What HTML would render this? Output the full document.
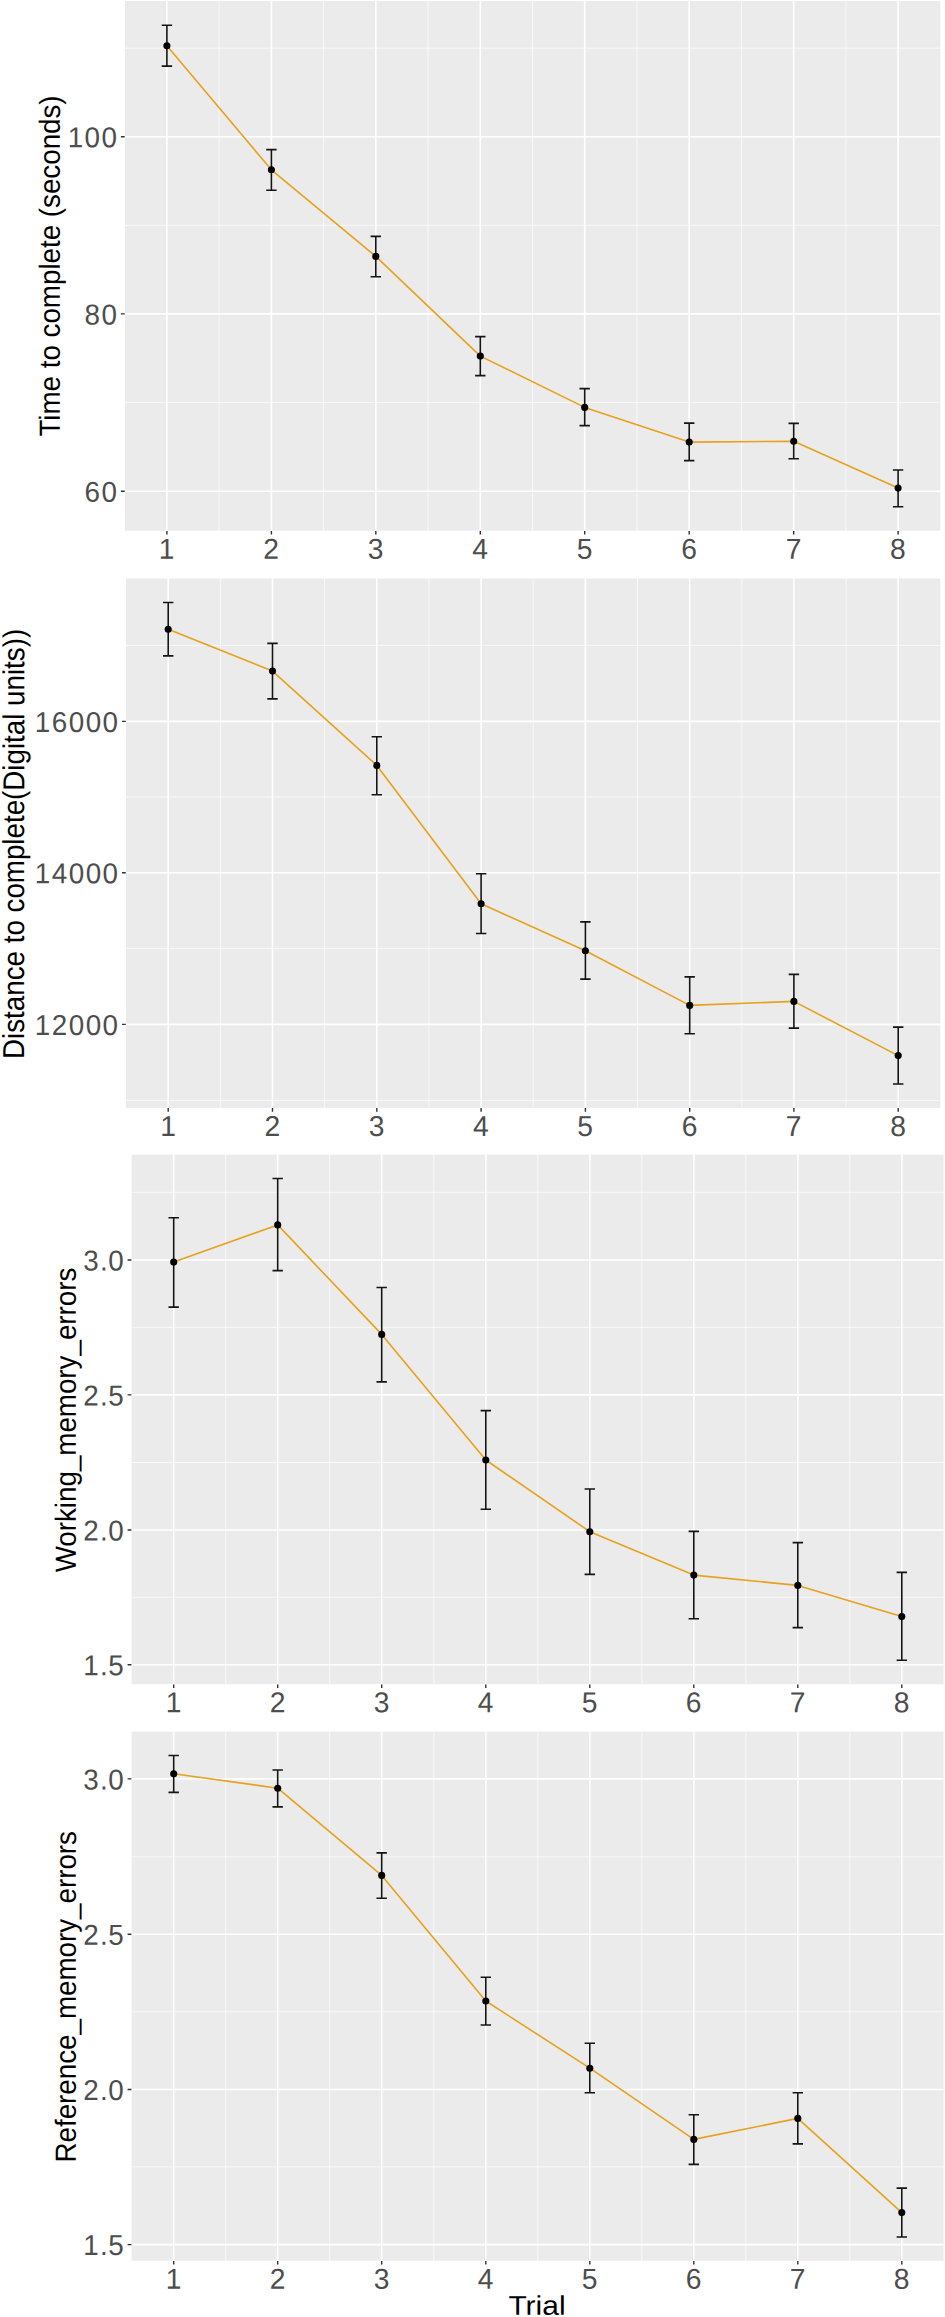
<!DOCTYPE html>
<html><head><meta charset="utf-8"><title>Trial learning curves</title>
<style>
html,body{margin:0;padding:0;background:#fff}
svg{display:block}
text{font-family:"Liberation Sans",Arial,Helvetica,sans-serif}
.tk{fill:#4d4d4d;font-size:28.8px}
.yl{letter-spacing:0px}
.ti{fill:#000;font-size:27.75px}
</style></head><body>
<svg width="945" height="2317" viewBox="0 0 945 2317">
<rect width="945" height="2317" fill="#fff"/>
<g id="panel1">
<rect x="124.9" y="1.0" width="815.4" height="529.7" fill="#ebebeb"/>
<path d="M124.9 48.2H940.3M124.9 225.3H940.3M124.9 402.4H940.3M219.1 1.0V530.7M323.6 1.0V530.7M428.0 1.0V530.7M532.5 1.0V530.7M637.0 1.0V530.7M741.4 1.0V530.7M845.9 1.0V530.7" stroke="#fff" stroke-opacity=".85" stroke-width="0.8" fill="none"/>
<path d="M124.9 136.8H940.3M124.9 313.9H940.3M124.9 491.2H940.3M166.9 1.0V530.7M271.4 1.0V530.7M375.8 1.0V530.7M480.3 1.0V530.7M584.7 1.0V530.7M689.2 1.0V530.7M793.7 1.0V530.7M898.1 1.0V530.7" stroke="#fff" stroke-width="1.6" fill="none"/>
<path d="M120.9 136.8H124.7M120.9 313.9H124.7M120.9 491.2H124.7M166.9 530.9V534.6M271.4 530.9V534.6M375.8 530.9V534.6M480.3 530.9V534.6M584.7 530.9V534.6M689.2 530.9V534.6M793.7 530.9V534.6M898.1 530.9V534.6" stroke="#333" stroke-width="1.4" fill="none"/>
<polyline points="166.9,45.7 271.4,169.8 375.8,256.4 480.3,356.1 584.7,407.4 689.2,442.1 793.7,441.3 898.1,488.1" fill="none" stroke="#e7a11a" stroke-width="1.6" stroke-linejoin="round"/>
<path d="M161.7 25.2H172.1M161.7 66.1H172.1M166.9 25.2V66.1M266.2 149.6H276.6M266.2 190.3H276.6M271.4 149.6V190.3M370.6 236.4H381.0M370.6 276.7H381.0M375.8 236.4V276.7M475.1 336.6H485.5M475.1 375.6H485.5M480.3 336.6V375.6M579.5 388.6H589.9M579.5 425.6H589.9M584.7 388.6V425.6M684.0 423.1H694.4M684.0 460.6H694.4M689.2 423.1V460.6M788.5 423.4H798.9M788.5 458.8H798.9M793.7 423.4V458.8M892.9 470.0H903.3M892.9 506.8H903.3M898.1 470.0V506.8" stroke="#141414" stroke-width="1.6" fill="none"/>
<circle cx="166.9" cy="45.7" r="3.55" fill="#000"/>
<circle cx="271.4" cy="169.8" r="3.55" fill="#000"/>
<circle cx="375.8" cy="256.4" r="3.55" fill="#000"/>
<circle cx="480.3" cy="356.1" r="3.55" fill="#000"/>
<circle cx="584.7" cy="407.4" r="3.55" fill="#000"/>
<circle cx="689.2" cy="442.1" r="3.55" fill="#000"/>
<circle cx="793.7" cy="441.3" r="3.55" fill="#000"/>
<circle cx="898.1" cy="488.1" r="3.55" fill="#000"/>
<text class="tk" x="0.00 17.56 35.13" transform="translate(67.63 147.30) rotate(.03) scale(0.965 1)">100</text>
<text class="tk" x="0.00 17.56" transform="translate(84.58 324.40) rotate(.03) scale(0.965 1)">80</text>
<text class="tk" x="0.00 17.56" transform="translate(84.58 501.70) rotate(.03) scale(0.965 1)">60</text>
<text class="tk" text-anchor="middle" transform="translate(166.7 558.8) rotate(.03) scale(0.98 1)">1</text>
<text class="tk" text-anchor="middle" transform="translate(271.2 558.8) rotate(.03) scale(0.98 1)">2</text>
<text class="tk" text-anchor="middle" transform="translate(375.6 558.8) rotate(.03) scale(0.98 1)">3</text>
<text class="tk" text-anchor="middle" transform="translate(480.1 558.8) rotate(.03) scale(0.98 1)">4</text>
<text class="tk" text-anchor="middle" transform="translate(584.5 558.8) rotate(.03) scale(0.98 1)">5</text>
<text class="tk" text-anchor="middle" transform="translate(689.0 558.8) rotate(.03) scale(0.98 1)">6</text>
<text class="tk" text-anchor="middle" transform="translate(793.5 558.8) rotate(.03) scale(0.98 1)">7</text>
<text class="tk" text-anchor="middle" transform="translate(897.9 558.8) rotate(.03) scale(0.98 1)">8</text>
<text class="ti" text-anchor="middle" transform="translate(59.8 266.0) rotate(-89.97) scale(1 1.05)">Time to complete (seconds)</text>
</g>
<g id="panel2">
<rect x="126.0" y="578.5" width="814.3" height="529.4" fill="#ebebeb"/>
<path d="M126.0 645.4H940.3M126.0 797.0H940.3M126.0 948.4H940.3M126.0 1100.4H940.3M220.3 578.5V1107.9M324.6 578.5V1107.9M428.9 578.5V1107.9M533.2 578.5V1107.9M637.5 578.5V1107.9M741.8 578.5V1107.9M846.1 578.5V1107.9" stroke="#fff" stroke-opacity=".85" stroke-width="0.8" fill="none"/>
<path d="M126.0 721.4H940.3M126.0 872.7H940.3M126.0 1024.4H940.3M168.2 578.5V1107.9M272.5 578.5V1107.9M376.8 578.5V1107.9M481.1 578.5V1107.9M585.4 578.5V1107.9M689.7 578.5V1107.9M793.9 578.5V1107.9M898.2 578.5V1107.9" stroke="#fff" stroke-width="1.6" fill="none"/>
<path d="M122.0 721.4H125.8M122.0 872.7H125.8M122.0 1024.4H125.8M168.2 1108.1V1111.8M272.5 1108.1V1111.8M376.8 1108.1V1111.8M481.1 1108.1V1111.8M585.4 1108.1V1111.8M689.7 1108.1V1111.8M793.9 1108.1V1111.8M898.2 1108.1V1111.8" stroke="#333" stroke-width="1.4" fill="none"/>
<polyline points="168.2,629.2 272.5,671.1 376.8,765.4 481.1,903.8 585.4,950.7 689.7,1005.4 793.9,1001.4 898.2,1055.6" fill="none" stroke="#e7a11a" stroke-width="1.6" stroke-linejoin="round"/>
<path d="M163.0 602.5H173.4M163.0 655.9H173.4M168.2 602.5V655.9M267.3 643.4H277.7M267.3 698.9H277.7M272.5 643.4V698.9M371.6 736.7H382.0M371.6 794.7H382.0M376.8 736.7V794.7M475.9 873.8H486.3M475.9 933.5H486.3M481.1 873.8V933.5M580.2 921.9H590.6M580.2 979.1H590.6M585.4 921.9V979.1M684.5 976.9H694.9M684.5 1033.8H694.9M689.7 976.9V1033.8M788.7 974.4H799.1M788.7 1028.1H799.1M793.9 974.4V1028.1M893.0 1027.1H903.4M893.0 1084.0H903.4M898.2 1027.1V1084.0" stroke="#141414" stroke-width="1.6" fill="none"/>
<circle cx="168.2" cy="629.2" r="3.55" fill="#000"/>
<circle cx="272.5" cy="671.1" r="3.55" fill="#000"/>
<circle cx="376.8" cy="765.4" r="3.55" fill="#000"/>
<circle cx="481.1" cy="903.8" r="3.55" fill="#000"/>
<circle cx="585.4" cy="950.7" r="3.55" fill="#000"/>
<circle cx="689.7" cy="1005.4" r="3.55" fill="#000"/>
<circle cx="793.9" cy="1001.4" r="3.55" fill="#000"/>
<circle cx="898.2" cy="1055.6" r="3.55" fill="#000"/>
<text class="tk" x="0.00 17.56 35.13 52.69 70.26" transform="translate(34.83 731.90) rotate(.03) scale(0.965 1)">16000</text>
<text class="tk" x="0.00 17.56 35.13 52.69 70.26" transform="translate(34.83 883.20) rotate(.03) scale(0.965 1)">14000</text>
<text class="tk" x="0.00 17.56 35.13 52.69 70.26" transform="translate(34.83 1034.90) rotate(.03) scale(0.965 1)">12000</text>
<text class="tk" text-anchor="middle" transform="translate(168.0 1136.0) rotate(.03) scale(0.98 1)">1</text>
<text class="tk" text-anchor="middle" transform="translate(272.3 1136.0) rotate(.03) scale(0.98 1)">2</text>
<text class="tk" text-anchor="middle" transform="translate(376.6 1136.0) rotate(.03) scale(0.98 1)">3</text>
<text class="tk" text-anchor="middle" transform="translate(480.9 1136.0) rotate(.03) scale(0.98 1)">4</text>
<text class="tk" text-anchor="middle" transform="translate(585.2 1136.0) rotate(.03) scale(0.98 1)">5</text>
<text class="tk" text-anchor="middle" transform="translate(689.5 1136.0) rotate(.03) scale(0.98 1)">6</text>
<text class="tk" text-anchor="middle" transform="translate(793.7 1136.0) rotate(.03) scale(0.98 1)">7</text>
<text class="tk" text-anchor="middle" transform="translate(898.0 1136.0) rotate(.03) scale(0.98 1)">8</text>
<text class="ti" text-anchor="middle" transform="translate(24.1 843.9) rotate(-89.97) scale(1 1.09)">Distance to complete(Digital units))</text>
</g>
<g id="panel3">
<rect x="131.6" y="1154.7" width="812.0" height="529.5" fill="#ebebeb"/>
<path d="M131.6 1192.3H943.6M131.6 1327.4H943.6M131.6 1462.5H943.6M131.6 1597.3H943.6M225.7 1154.7V1684.2M329.7 1154.7V1684.2M433.8 1154.7V1684.2M537.8 1154.7V1684.2M641.8 1154.7V1684.2M745.8 1154.7V1684.2M849.8 1154.7V1684.2" stroke="#fff" stroke-opacity=".85" stroke-width="0.8" fill="none"/>
<path d="M131.6 1260.0H943.6M131.6 1394.9H943.6M131.6 1530.0H943.6M131.6 1664.8H943.6M173.7 1154.7V1684.2M277.7 1154.7V1684.2M381.7 1154.7V1684.2M485.8 1154.7V1684.2M589.8 1154.7V1684.2M693.8 1154.7V1684.2M797.8 1154.7V1684.2M901.8 1154.7V1684.2" stroke="#fff" stroke-width="1.6" fill="none"/>
<path d="M127.6 1260.0H131.4M127.6 1394.9H131.4M127.6 1530.0H131.4M127.6 1664.8H131.4M173.7 1684.4V1688.1M277.7 1684.4V1688.1M381.7 1684.4V1688.1M485.8 1684.4V1688.1M589.8 1684.4V1688.1M693.8 1684.4V1688.1M797.8 1684.4V1688.1M901.8 1684.4V1688.1" stroke="#333" stroke-width="1.4" fill="none"/>
<polyline points="173.7,1262.1 277.7,1224.9 381.7,1334.4 485.8,1460.0 589.8,1531.7 693.8,1575.1 797.8,1585.4 901.8,1616.6" fill="none" stroke="#e7a11a" stroke-width="1.6" stroke-linejoin="round"/>
<path d="M168.5 1217.7H178.9M168.5 1307.1H178.9M173.7 1217.7V1307.1M272.5 1178.5H282.9M272.5 1270.6H282.9M277.7 1178.5V1270.6M376.5 1287.5H386.9M376.5 1381.9H386.9M381.7 1287.5V1381.9M480.6 1410.6H491.0M480.6 1509.3H491.0M485.8 1410.6V1509.3M584.6 1489.0H595.0M584.6 1574.4H595.0M589.8 1489.0V1574.4M688.6 1531.4H699.0M688.6 1618.8H699.0M693.8 1531.4V1618.8M792.6 1542.6H803.0M792.6 1627.6H803.0M797.8 1542.6V1627.6M896.6 1572.4H907.0M896.6 1660.3H907.0M901.8 1572.4V1660.3" stroke="#141414" stroke-width="1.6" fill="none"/>
<circle cx="173.7" cy="1262.1" r="3.55" fill="#000"/>
<circle cx="277.7" cy="1224.9" r="3.55" fill="#000"/>
<circle cx="381.7" cy="1334.4" r="3.55" fill="#000"/>
<circle cx="485.8" cy="1460.0" r="3.55" fill="#000"/>
<circle cx="589.8" cy="1531.7" r="3.55" fill="#000"/>
<circle cx="693.8" cy="1575.1" r="3.55" fill="#000"/>
<circle cx="797.8" cy="1585.4" r="3.55" fill="#000"/>
<circle cx="901.8" cy="1616.6" r="3.55" fill="#000"/>
<text class="tk" x="0.00 17.56 25.96" transform="translate(83.18 1270.50) rotate(.03) scale(0.965 1)">3.0</text>
<text class="tk" x="0.00 17.56 25.96" transform="translate(83.18 1405.40) rotate(.03) scale(0.965 1)">2.5</text>
<text class="tk" x="0.00 17.56 25.96" transform="translate(83.18 1540.50) rotate(.03) scale(0.965 1)">2.0</text>
<text class="tk" x="0.00 17.56 25.96" transform="translate(83.18 1675.30) rotate(.03) scale(0.965 1)">1.5</text>
<text class="tk" text-anchor="middle" transform="translate(173.5 1712.3) rotate(.03) scale(0.98 1)">1</text>
<text class="tk" text-anchor="middle" transform="translate(277.5 1712.3) rotate(.03) scale(0.98 1)">2</text>
<text class="tk" text-anchor="middle" transform="translate(381.5 1712.3) rotate(.03) scale(0.98 1)">3</text>
<text class="tk" text-anchor="middle" transform="translate(485.6 1712.3) rotate(.03) scale(0.98 1)">4</text>
<text class="tk" text-anchor="middle" transform="translate(589.6 1712.3) rotate(.03) scale(0.98 1)">5</text>
<text class="tk" text-anchor="middle" transform="translate(693.6 1712.3) rotate(.03) scale(0.98 1)">6</text>
<text class="tk" text-anchor="middle" transform="translate(797.6 1712.3) rotate(.03) scale(0.98 1)">7</text>
<text class="tk" text-anchor="middle" transform="translate(901.6 1712.3) rotate(.03) scale(0.98 1)">8</text>
<text class="ti" text-anchor="middle" transform="translate(75.8 1420.0) rotate(-89.97) scale(1 1.05)">Working_memory_errors</text>
</g>
<g id="panel4">
<rect x="131.6" y="1731.6" width="812.0" height="529.1" fill="#ebebeb"/>
<path d="M131.6 1856.8H943.6M131.6 2011.8H943.6M131.6 2166.9H943.6M225.7 1731.6V2260.7M329.7 1731.6V2260.7M433.8 1731.6V2260.7M537.8 1731.6V2260.7M641.8 1731.6V2260.7M745.8 1731.6V2260.7M849.8 1731.6V2260.7" stroke="#fff" stroke-opacity=".85" stroke-width="0.8" fill="none"/>
<path d="M131.6 1778.9H943.6M131.6 1934.3H943.6M131.6 2089.5H943.6M131.6 2244.6H943.6M173.7 1731.6V2260.7M277.7 1731.6V2260.7M381.7 1731.6V2260.7M485.8 1731.6V2260.7M589.8 1731.6V2260.7M693.8 1731.6V2260.7M797.8 1731.6V2260.7M901.8 1731.6V2260.7" stroke="#fff" stroke-width="1.6" fill="none"/>
<path d="M127.6 1778.9H131.4M127.6 1934.3H131.4M127.6 2089.5H131.4M127.6 2244.6H131.4M173.7 2260.9V2264.6M277.7 2260.9V2264.6M381.7 2260.9V2264.6M485.8 2260.9V2264.6M589.8 2260.9V2264.6M693.8 2260.9V2264.6M797.8 2260.9V2264.6M901.8 2260.9V2264.6" stroke="#333" stroke-width="1.4" fill="none"/>
<polyline points="173.7,1773.7 277.7,1788.2 381.7,1875.4 485.8,2001.0 589.8,2068.2 693.8,2139.4 797.8,2118.4 901.8,2212.6" fill="none" stroke="#e7a11a" stroke-width="1.6" stroke-linejoin="round"/>
<path d="M168.5 1755.5H178.9M168.5 1792.4H178.9M173.7 1755.5V1792.4M272.5 1770.0H282.9M272.5 1806.9H282.9M277.7 1770.0V1806.9M376.5 1852.9H386.9M376.5 1898.2H386.9M381.7 1852.9V1898.2M480.6 1977.3H491.0M480.6 2025.0H491.0M485.8 1977.3V2025.0M584.6 2043.2H595.0M584.6 2092.7H595.0M589.8 2043.2V2092.7M688.6 2114.7H699.0M688.6 2164.4H699.0M693.8 2114.7V2164.4M792.6 2092.7H803.0M792.6 2143.9H803.0M797.8 2092.7V2143.9M896.6 2188.1H907.0M896.6 2237.0H907.0M901.8 2188.1V2237.0" stroke="#141414" stroke-width="1.6" fill="none"/>
<circle cx="173.7" cy="1773.7" r="3.55" fill="#000"/>
<circle cx="277.7" cy="1788.2" r="3.55" fill="#000"/>
<circle cx="381.7" cy="1875.4" r="3.55" fill="#000"/>
<circle cx="485.8" cy="2001.0" r="3.55" fill="#000"/>
<circle cx="589.8" cy="2068.2" r="3.55" fill="#000"/>
<circle cx="693.8" cy="2139.4" r="3.55" fill="#000"/>
<circle cx="797.8" cy="2118.4" r="3.55" fill="#000"/>
<circle cx="901.8" cy="2212.6" r="3.55" fill="#000"/>
<text class="tk" x="0.00 17.56 25.96" transform="translate(83.18 1789.40) rotate(.03) scale(0.965 1)">3.0</text>
<text class="tk" x="0.00 17.56 25.96" transform="translate(83.18 1944.80) rotate(.03) scale(0.965 1)">2.5</text>
<text class="tk" x="0.00 17.56 25.96" transform="translate(83.18 2100.00) rotate(.03) scale(0.965 1)">2.0</text>
<text class="tk" x="0.00 17.56 25.96" transform="translate(83.18 2255.10) rotate(.03) scale(0.965 1)">1.5</text>
<text class="tk" text-anchor="middle" transform="translate(173.5 2288.8) rotate(.03) scale(0.98 1)">1</text>
<text class="tk" text-anchor="middle" transform="translate(277.5 2288.8) rotate(.03) scale(0.98 1)">2</text>
<text class="tk" text-anchor="middle" transform="translate(381.5 2288.8) rotate(.03) scale(0.98 1)">3</text>
<text class="tk" text-anchor="middle" transform="translate(485.6 2288.8) rotate(.03) scale(0.98 1)">4</text>
<text class="tk" text-anchor="middle" transform="translate(589.6 2288.8) rotate(.03) scale(0.98 1)">5</text>
<text class="tk" text-anchor="middle" transform="translate(693.6 2288.8) rotate(.03) scale(0.98 1)">6</text>
<text class="tk" text-anchor="middle" transform="translate(797.6 2288.8) rotate(.03) scale(0.98 1)">7</text>
<text class="tk" text-anchor="middle" transform="translate(901.6 2288.8) rotate(.03) scale(0.98 1)">8</text>
<text class="ti" text-anchor="middle" transform="translate(75.8 1996.8) rotate(-89.97) scale(1 1.05)">Reference_memory_errors</text>
</g>
<text class="ti" text-anchor="middle" transform="translate(537.0 2314.7) rotate(.03) scale(1.08 .975)">Trial</text>
</svg>
</body></html>
